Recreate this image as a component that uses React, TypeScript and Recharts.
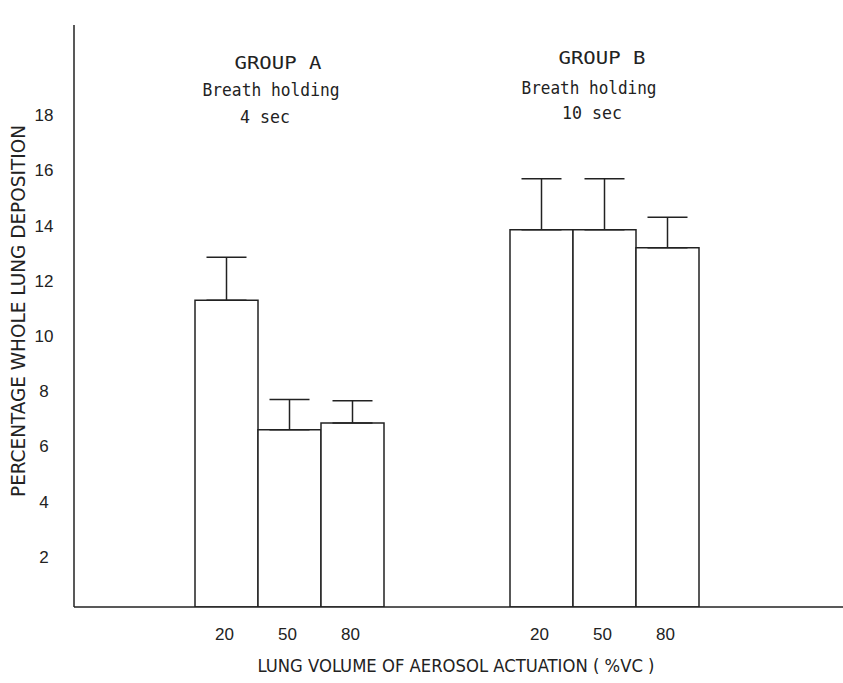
import { BarChart, Bar, XAxis, YAxis, ErrorBar, Customized } from 'recharts';

// Lung volume at actuation (%VC), one bar per volume in each group
const volumes = ['20', '50', '80'];
const groupA = [11.3, 6.6, 6.85];
const groupAErr = [1.55, 1.1, 0.8];
const groupB = [13.85, 13.85, 13.2];
const groupBErr = [1.85, 1.85, 1.1];
const gapSlots = 2;
const yTicks = [2, 4, 6, 8, 10, 12, 14, 16, 18];

const rows = [
  ...volumes.map((v, i) => ({ slot: `A${v}`, label: v, value: groupA[i], err: [0, groupAErr[i]] })),
  ...Array.from({ length: gapSlots }, (_, i) => ({ slot: `gap${i}`, label: '', value: null, err: null })),
  ...volumes.map((v, i) => ({ slot: `B${v}`, label: v, value: groupB[i], err: [0, groupBErr[i]] })),
];

const INK = '#222';
const MONO = '"DejaVu Sans Mono", monospace';
const NARROW = '"Liberation Sans Narrow", "DejaVu Sans Condensed", "Liberation Sans", sans-serif';

const YTick = ({ y, payload }: any) => (
  <text x={44} y={y} dy={6} textAnchor="middle" fontSize={17} fontFamily='"Liberation Sans", sans-serif' fill={INK}>
    {payload.value}
  </text>
);

const XTick = ({ x, y, index }: any) => (
  <text x={x - 2} y={y + 25} textAnchor="middle" fontSize={17} fontFamily='"Liberation Sans", sans-serif' fill={INK}>
    {rows[index]?.label}
  </text>
);

const Annotations = () => (
  <g fill={INK}>
    <text x={278} y={69} textAnchor="middle" fontFamily={MONO} fontSize={17} textLength={87} lengthAdjust="spacingAndGlyphs">GROUP A</text>
    <text x={271} y={96} textAnchor="middle" fontFamily={MONO} fontSize={17} textLength={137} lengthAdjust="spacingAndGlyphs">Breath holding</text>
    <text x={265} y={123} textAnchor="middle" fontFamily={MONO} fontSize={17} textLength={50} lengthAdjust="spacingAndGlyphs">4 sec</text>
    <text x={602} y={64} textAnchor="middle" fontFamily={MONO} fontSize={17} textLength={87} lengthAdjust="spacingAndGlyphs">GROUP B</text>
    <text x={589} y={94} textAnchor="middle" fontFamily={MONO} fontSize={17} textLength={135} lengthAdjust="spacingAndGlyphs">Breath holding</text>
    <text x={592} y={119} textAnchor="middle" fontFamily={MONO} fontSize={17} textLength={60} lengthAdjust="spacingAndGlyphs">10 sec</text>
    <text x={456} y={672} textAnchor="middle" fontFamily={NARROW} fontSize={18} textLength={397} lengthAdjust="spacingAndGlyphs">
      LUNG VOLUME OF AEROSOL ACTUATION ( %VC )
    </text>
    <text
      x={0}
      y={0}
      transform="translate(25 311) rotate(-90)"
      textAnchor="middle"
      fontFamily={NARROW}
      fontSize={19}
      textLength={372}
      lengthAdjust="spacingAndGlyphs"
    >
      PERCENTAGE WHOLE LUNG DEPOSITION
    </text>
  </g>
);

export default function App() {
  return (
    <div style={{ position: 'absolute', left: 0, top: 0, background: '#fff' }}>
      <BarChart
        width={843}
        height={683}
        data={rows}
        margin={{ top: 25, right: 0, bottom: 0, left: 0 }}
        barCategoryGap={0}
      >
        <XAxis
          dataKey="slot"
          height={76}
          interval={0}
          padding={{ left: 121, right: 144 }}
          tickLine={false}
          axisLine={{ stroke: INK, strokeWidth: 1.5 }}
          tick={<XTick />}
        />
        <YAxis
          type="number"
          width={74}
          domain={[0.18, 21.27]}
          ticks={yTicks}
          allowDataOverflow
          tickLine={false}
          axisLine={{ stroke: INK, strokeWidth: 1.5 }}
          tick={<YTick />}
        />
        <Bar dataKey="value" fill="#fff" stroke={INK} strokeWidth={1.5} isAnimationActive={false}>
          <ErrorBar dataKey="err" width={20} stroke={INK} strokeWidth={1.5} direction="y" />
        </Bar>
        <Customized component={Annotations} />
      </BarChart>
    </div>
  );
}
